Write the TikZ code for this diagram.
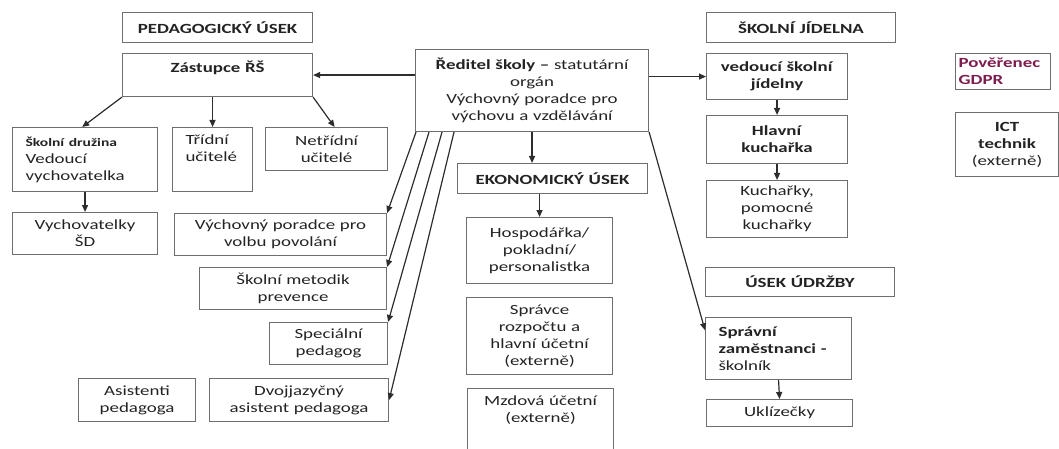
\documentclass[tikz,border=0pt]{standalone}
\usepackage{fontspec}
\setmainfont{Carlito}[FakeStretch=1.35]
\usepackage{tikz}
\usetikzlibrary{arrows.meta}
\usepackage{xcolor}

\definecolor{boxgray}{RGB}{110,110,110}
\definecolor{lngray}{RGB}{45,45,45}
\definecolor{txt}{RGB}{35,35,35}
\definecolor{gdprcol}{RGB}{125,28,78}

% text pushed to the top of a box
\newcommand{\toptext}[2]{\parbox[c][#1][t]{\linewidth}{\vspace*{5pt}#2}}

\begin{document}
\begin{tikzpicture}[x=1pt, y=-1pt,
    box/.style 2 args={draw=boxgray, line width=1.1pt, inner xsep=0pt, inner ysep=2pt,
        minimum width=#1, text width=#1, minimum height=#2, anchor=north west,
        align=center, text=txt, font=\fontsize{14}{17}\selectfont},
    arr/.style={draw=lngray, line width=1.2pt, -{Triangle[length=7pt,width=6pt]}}]
    \useasboundingbox (0,0) rectangle (1059,449);
    \clip (0,0) rectangle (1059,449);

    % Pedagogical section
    \node[box={190}{30}] (hdrPed) at (122,12) {\textbf{PEDAGOGICKÝ ÚSEK}};
    \node[box={190}{43}] (zast) at (122,53) {\toptext{39pt}{\centering\textbf{Zástupce ŘŠ}}};
    \node[box={145}{64}, align=left, inner xsep=13pt, text width=119] (skDruz) at (12,127)
        {{\fontsize{11.5}{14}\selectfont\bfseries Školní družina}\\ Vedoucí\\ vychovatelka};
    \node[box={80}{64}, inner xsep=13pt, text width=54] (tridni) at (172,127)
        {\toptext{60pt}{\raggedright Třídní\\ učitelé}};
    \node[box={122}{43}] (netr) at (265,127) {Netřídní\\ učitelé};
    \node[box={145}{42}] (vychSD) at (12,212) {Vychovatelky\\ ŠD};
    \node[box={212}{42}] (vpVolba) at (174,213) {Výchovný poradce pro\\ volbu povolání};
    \node[box={187}{42}] (metodik) at (199,267) {Školní metodik\\ prevence};
    \node[box={118}{42}] (specPed) at (269,322) {Speciální\\ pedagog};
    \node[box={117}{43}] (asist) at (78,378) {Asistenti\\ pedagoga};
    \node[box={179}{43}] (dvoj) at (209,378) {Dvojjazyčný\\ asistent pedagoga};

    % Headmaster
    \node[box={233}{82}] (ried) at (415,49)
        {\textbf{Ředitel školy –} statutární\\ orgán\\ Výchovný poradce pro\\ výchovu a vzdělávání};

    % Economic section
    \node[box={190}{30}] (ekon) at (457,163) {\textbf{EKONOMICKÝ ÚSEK}};
    \node[box={146}{66}] (hosp) at (466,217) {Hospodářka/\\ pokladní/\\ personalistka};
    \node[box={146}{77}] (sprRozp) at (466,297) {Správce\\ rozpočtu a\\ hlavní účetní\\ (externě)};
    \node[box={146}{80}] (mzd) at (467,388) {\toptext{76pt}{\centering Mzdová účetní\\ (externě)}};

    % Canteen and maintenance
    \node[box={189}{30}] (hdrJid) at (706,12) {\textbf{ŠKOLNÍ JÍDELNA}};
    \node[box={141}{46}] (vedJid) at (706,53) {\textbf{vedoucí školní}\\ \textbf{jídelny}};
    \node[box={141}{48}] (hlKuch) at (706,115) {\textbf{Hlavní}\\ \textbf{kuchařka}};
    \node[box={141}{57}] (kuch) at (706,180) {Kuchařky,\\ pomocné\\ kuchařky};
    \node[box={189}{29}] (udrz) at (705,267) {\textbf{ÚSEK ÚDRŽBY}};
    \node[box={146}{62}, align=left, inner xsep=13pt, text width=120] (sprZam) at (705,317)
        {\textbf{Správní}\\ \textbf{zaměstnanci -}\\ školník};
    \node[box={146}{27}] (ukl) at (706,399) {Uklízečky};

    % Standalone roles
    \node[box={95}{36}, align=left, inner xsep=3pt, text width=89, text=gdprcol] (gdpr) at (955,53)
        {\textbf{Pověřenec}\\ \textbf{GDPR}};
    \node[box={103}{64}] (ict) at (955,112) {\textbf{ICT}\\ \textbf{technik}\\ (externě)};

    % Connectors
    \draw[arr] (zast.east -| ried.west) -- (zast.east);
    \draw[arr] (vedJid.west -| ried.east) -- (vedJid.west);
    \draw[arr] (zast.south west) -- (skDruz.95);
    \draw[arr] (tridni.north |- zast.south) -- (tridni.north);
    \draw[arr] (zast.south east) -- (netr.70);
    \draw[arr] (skDruz.south) -- (vychSD.north);
    \draw[arr] ([xshift=1pt]ried.south west) -- (vpVolba.north east);
    \draw[arr] ([xshift=14pt]ried.south west) -- (metodik.north east);
    \draw[arr] ([xshift=27pt]ried.south west) -- (specPed.north east);
    \draw[arr] ([xshift=39pt]ried.south west) -- (dvoj.east);
    \draw[arr] (ried.south) -- (ried.south |- ekon.north);
    \draw[arr] (hosp.north |- ekon.south) -- (hosp.north);
    \draw[arr] (ried.south east) -- (sprZam.166);
    \draw[arr] (vedJid.south) -- (hlKuch.north);
    \draw[arr] (hlKuch.south) -- (kuch.north);
    \draw[arr] (sprZam.south) -- (ukl.north);
\end{tikzpicture}
\end{document}
